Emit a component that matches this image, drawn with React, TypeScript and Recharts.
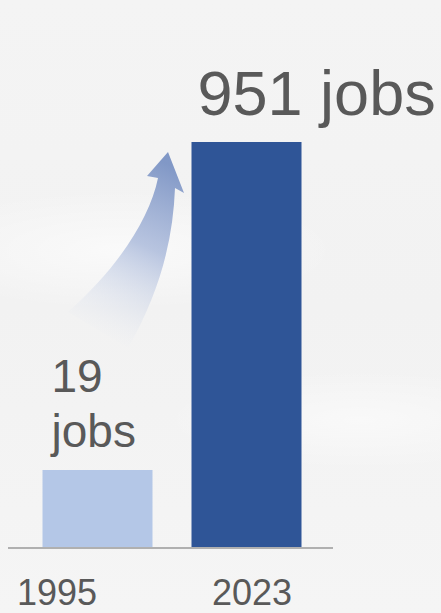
import { BarChart, Bar, XAxis, YAxis, Cell, LabelList } from 'recharts'

// values
const years = ['1995', '2023']
const jobs = [19, 951]
const unit = 'jobs'

const barColors = ['#b4c7e7', '#2f5597']
const textColor = '#595959'
const font = '"Liberation Sans", Arial, sans-serif'

// year labels are not centred under the bars in the original
const tickShift = [-40, 6]

const data = years.map((year, i) => ({ year, jobs: jobs[i] }))

function JobsLabel(props: any) {
  const { x, y, value, index } = props
  if (index === 0) {
    return (
      <text x={x + 9} y={y} fill={textColor} fontSize={46} fontFamily={font}>
        <tspan x={x + 9} dy={-78}>{value}</tspan>
        <tspan x={x + 9} dy={55}>{unit}</tspan>
      </text>
    )
  }
  return (
    <text x={x + 6} y={y - 27} fill={textColor} fontSize={63} fontFamily={font}>
      {`${value} ${unit}`}
    </text>
  )
}

function YearTick(props: any) {
  const { x, y, payload, index } = props
  return (
    <text
      x={x + (tickShift[index] ?? 0)}
      y={y + 49}
      textAnchor="middle"
      fill={textColor}
      fontSize={36}
      fontFamily={font}
    >
      {payload.value}
    </text>
  )
}

// decorative curved arrow between the bars
function Arrow() {
  return (
    <svg width={441} height={613} style={{ position: 'absolute', left: 0, top: 0 }}>
      <defs>
        <linearGradient id="arrowFade" gradientUnits="userSpaceOnUse" x1={170} y1={165} x2={92} y2={335}>
          <stop offset="0" stopColor="#7b93c4" stopOpacity={0.95} />
          <stop offset="0.45" stopColor="#9caed5" stopOpacity={0.7} />
          <stop offset="1" stopColor="#dfe5f1" stopOpacity={0} />
        </linearGradient>
      </defs>
      <path
        d="M168,152 L184,193 L175,188 C173,240 160,292 128,348 L68,312 C118,268 150,218 158,178 L147,176 Z"
        fill="url(#arrowFade)"
      />
    </svg>
  )
}

export default function App() {
  return (
    <div
      style={{
        position: 'absolute',
        left: 0,
        top: 0,
        width: 441,
        height: 613,
        background:
          'radial-gradient(ellipse 220px 60px at 120px 250px, rgba(255,255,255,0.6), rgba(255,255,255,0)),' +
          'radial-gradient(ellipse 200px 50px at 360px 420px, rgba(255,255,255,0.5), rgba(255,255,255,0)),' +
          'linear-gradient(180deg, #f4f4f4 0%, #f2f2f2 50%, #f5f5f5 100%)',
        overflow: 'hidden',
      }}
    >
      <Arrow />
      <div style={{ position: 'absolute', left: 0, top: 0 }}>
        <BarChart width={441} height={613} data={data} margin={{ top: 20, right: 108, left: 8, bottom: 0 }}>
          <XAxis
            dataKey="year"
            height={65}
            padding={{ left: 14.5, right: 12.5 }}
            tickLine={false}
            axisLine={{ stroke: '#b0b0b0', strokeWidth: 2 }}
            tick={<YearTick />}
            interval={0}
          />
          <YAxis hide type="number" scale="log" domain={[7.5, 4080]} allowDataOverflow />
          <Bar dataKey="jobs" barSize={110} isAnimationActive={false}>
            {data.map((d, i) => (
              <Cell key={d.year} fill={barColors[i]} />
            ))}
            <LabelList dataKey="jobs" content={<JobsLabel />} />
          </Bar>
        </BarChart>
      </div>
    </div>
  )
}
